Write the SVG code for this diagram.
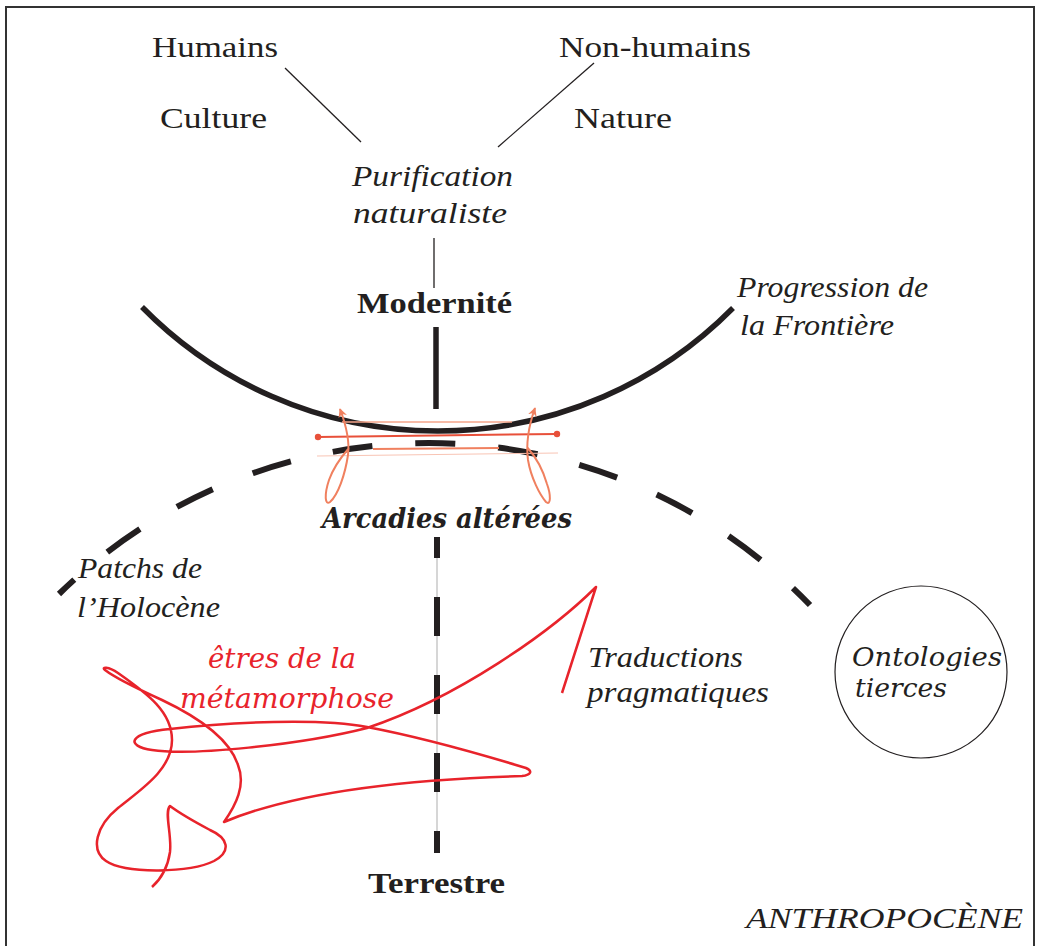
<svg xmlns="http://www.w3.org/2000/svg" width="1038" height="946" viewBox="0 0 1038 946">
  <defs>
    <style>
      .serif { font-family: "Liberation Serif", "DejaVu Serif", serif; font-size: 30px; fill: #231f20; }
      .ital { font-style: italic; }
      .bold { font-weight: bold; }
      .script { font-family: "DejaVu Serif", "Liberation Serif", serif; font-style: italic; fill: #231f20; }
      .red { fill: #e8232b; }
      .thin { stroke: #231f20; stroke-width: 1.3; fill: none; }
      .thick { stroke: #231f20; stroke-width: 5.5; fill: none; }
      .orange { stroke: #f0805f; stroke-width: 2; fill: none; }
    </style>
    <marker id="arr" viewBox="0 0 10 10" refX="9" refY="5" markerWidth="4.5" markerHeight="4.5" orient="auto-start-reverse" markerUnits="strokeWidth">
      <path d="M0,0 L10,5 L0,10 L3,5 z" fill="#f0805f"/>
    </marker>
  </defs>

  <rect x="0" y="0" width="1038" height="946" fill="#ffffff"/>
  <!-- frame -->
  <path d="M6,950 V7 H1034 V950" fill="none" stroke="#333333" stroke-width="2"/>

  <g id="connectors">
    <line class="thin" x1="285" y1="68" x2="361" y2="142"/>
    <line class="thin" x1="594" y1="63" x2="498" y2="147"/>
    <line class="thin" x1="434" y1="238" x2="434" y2="288"/>
    <line class="thick" x1="436" y1="327" x2="436" y2="409"/>
    <!-- modernity arc -->
    <path class="thick" d="M142,307 A415,415 0 0 0 733,308"/>
    <!-- Holocene dashed arc -->
    <path d="M59,594 A529,529 0 0 1 810,605" fill="none" stroke="#231f20" stroke-width="6" stroke-dasharray="40 43" stroke-dashoffset="19"/>
    <!-- vertical dashed line to Terrestre -->
    <line x1="437" y1="540" x2="437" y2="852" stroke="#c8c8c8" stroke-width="1.5"/>
    <line x1="437" y1="537" x2="437" y2="853" stroke="#231f20" stroke-width="6" stroke-dasharray="39 39" stroke-dashoffset="18"/>
    <!-- orange arcadian marks -->
    <line x1="342" y1="422" x2="512" y2="422" stroke="#f4a58a" stroke-width="1.5"/>
    <line x1="318" y1="437" x2="557" y2="434" stroke="#e8503a" stroke-width="2"/>
    <circle cx="318" cy="437" r="3.2" fill="#e8503a"/>
    <circle cx="557" cy="434" r="3.2" fill="#e8503a"/>
    <line x1="373" y1="449" x2="499" y2="448" stroke="#f0805f" stroke-width="2"/>
    <line x1="317" y1="456" x2="558" y2="453" stroke="#f8c4b4" stroke-width="1"/>
    <path class="orange" marker-start="url(#arr)" d="M340,409 C346,425 350,440 348,455 C345,475 338,495 330,502 C325,506 324,495 329,480 C334,466 342,456 349,448"/>
    <path class="orange" marker-start="url(#arr)" d="M535,408 C529,425 526,445 528,460 C531,478 540,495 546,502 C551,506 551,495 547,484 C543,470 535,456 527,447"/>
    <!-- red metamorphosis squiggle -->
    <path fill="none" stroke="#e8232b" stroke-width="2.5" stroke-linejoin="round" d="M562,693 L596,587 C551,632 457,698 367,728 C300,745 190,756 152,750 C125,746 128,733 170,729 C230,722 320,718 367,727 C420,737 490,757 526,768 C533,771 531,775 522,776 C420,779 300,790 224,822 C236,805 246,785 238,765 C230,740 200,718 162,700 C138,689 114,677 105,670 C101,667 108,666 118,673 C148,694 172,712 172,740 C172,770 140,790 118,808 C96,826 90,850 106,861 C125,874 190,873 214,861 C232,851 228,838 210,830 C195,822 178,812 170,806 C164,812 172,835 170,852 C168,866 162,878 152,887"/>
  </g>

  <g id="humains"><text class="serif" x="152" y="57" textLength="126" lengthAdjust="spacingAndGlyphs">Humains</text></g>
  <g id="non-humains"><text class="serif" x="559" y="57" textLength="192" lengthAdjust="spacingAndGlyphs">Non-humains</text></g>
  <g id="culture"><text class="serif" x="160" y="128" textLength="107" lengthAdjust="spacingAndGlyphs">Culture</text></g>
  <g id="nature"><text class="serif" x="574" y="128" textLength="98" lengthAdjust="spacingAndGlyphs">Nature</text></g>
  <g id="purification">
    <text class="serif ital" x="352" y="186" textLength="161" lengthAdjust="spacingAndGlyphs">Purification</text>
    <text class="serif ital" x="353" y="223" textLength="154" lengthAdjust="spacingAndGlyphs">naturaliste</text>
  </g>
  <g id="modernite"><text class="serif bold" x="357" y="313" textLength="155" lengthAdjust="spacingAndGlyphs">Modernité</text></g>
  <g id="progression">
    <text class="serif ital" x="737" y="297" textLength="191" lengthAdjust="spacingAndGlyphs">Progression de</text>
    <text class="serif ital" x="740" y="335" textLength="154" lengthAdjust="spacingAndGlyphs">la Frontière</text>
  </g>
  <g id="arcadies"><text class="script bold" font-size="27" x="322" y="528" textLength="250" lengthAdjust="spacingAndGlyphs">Arcadies altérées</text></g>
  <g id="patchs">
    <text class="serif ital" x="78" y="578" textLength="124" lengthAdjust="spacingAndGlyphs">Patchs de</text>
    <text class="serif ital" x="77" y="617" textLength="143" lengthAdjust="spacingAndGlyphs">l’Holocène</text>
  </g>
  <g id="etres">
    <text class="script red" font-size="28" x="208" y="668" textLength="148" lengthAdjust="spacingAndGlyphs">êtres de la</text>
    <text class="script red" font-size="28" x="180" y="708" textLength="214" lengthAdjust="spacingAndGlyphs">métamorphose</text>
  </g>
  <g id="traductions">
    <text class="serif ital" x="588" y="667" textLength="155" lengthAdjust="spacingAndGlyphs">Traductions</text>
    <text class="serif ital" x="587" y="702" textLength="182" lengthAdjust="spacingAndGlyphs">pragmatiques</text>
  </g>
  <g id="ontologies">
    <circle cx="921" cy="672" r="86" fill="none" stroke="#231f20" stroke-width="1.2"/>
    <text class="script" font-size="26" x="852" y="666" textLength="150" lengthAdjust="spacingAndGlyphs">Ontologies</text>
    <text class="script" font-size="26" x="855" y="697" textLength="92" lengthAdjust="spacingAndGlyphs">tierces</text>
  </g>
  <g id="terrestre"><text class="serif bold" x="368" y="893" textLength="137" lengthAdjust="spacingAndGlyphs">Terrestre</text></g>
  <g id="anthropocene"><text class="serif ital" font-size="27" x="746" y="928" textLength="277" lengthAdjust="spacingAndGlyphs">ANTHROPOCÈNE</text></g>
</svg>
